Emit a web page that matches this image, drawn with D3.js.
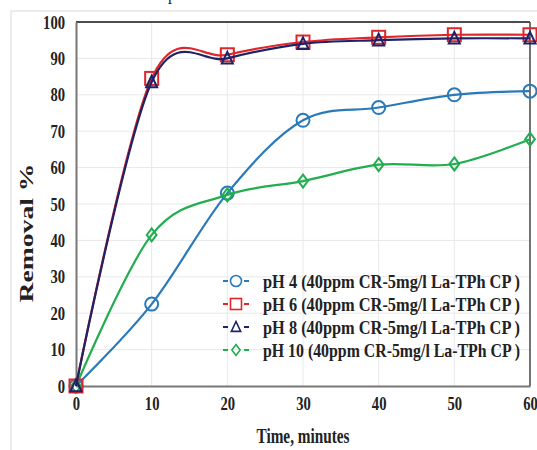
<!DOCTYPE html>
<html lang="en">
<head>
<meta charset="UTF-8">
<title>Removal vs time</title>
<script src="https://d3js.org/d3.v7.min.js"></script>
<style>
  body { margin: 0; background: #fff; }
  text { font-family: "Liberation Serif", "Times New Roman", serif; font-weight: bold; fill: #222; }
</style>
</head>
<body>
<svg width="537" height="450"></svg>
<script>
// data
const times = [0, 10, 20, 30, 40, 50, 60];
const ph4 = [0, 22.5, 53, 73, 76.5, 80, 81];
const ph6 = [0, 84.5, 91, 94.5, 95.8, 96.5, 96.5];
const ph8 = [0, 83.5, 90, 94, 95, 95.5, 95.5];
const ph10 = [0, 41.5, 52.5, 56.3, 60.8, 61, 67.8];
const legendLabels = [
  "pH 4  (40ppm CR-5mg/l La-TPh CP )",
  "pH 6  (40ppm CR-5mg/l La-TPh CP )",
  "pH 8  (40ppm CR-5mg/l La-TPh CP )",
  "pH 10 (40ppm CR-5mg/l La-TPh CP )"
];
const xTicks = [0, 10, 20, 30, 40, 50, 60];
const yTicks = [0, 10, 20, 30, 40, 50, 60, 70, 80, 90, 100];

const series = [
  {name: "ph4", values: ph4, color: "#2a7ab9", shape: "circle", label: legendLabels[0]},
  {name: "ph6", values: ph6, color: "#e0262a", shape: "square", label: legendLabels[1]},
  {name: "ph8", values: ph8, color: "#1f2266", shape: "triangle", label: legendLabels[2]},
  {name: "ph10", values: ph10, color: "#22ad4f", shape: "diamond", label: legendLabels[3]}
];
const drawOrder = [0, 3, 1, 2];

const svg = d3.select("svg");
const mLeft = 76, mRight = 530, mTop = 22, mBottom = 386;

const x = d3.scaleLinear().domain([0, 60]).range([mLeft, mRight]);
const y = d3.scaleLinear().domain([0, 100]).range([mBottom, mTop]);

// outer light frame
svg.append("path").attr("d", "M11,450 V11 H537")
  .attr("fill", "none").attr("stroke", "#e6e6e6").attr("stroke-width", 1.5);
// cut-off caption text at the top
svg.append("text").attr("x", 168).attr("y", 0).attr("font-size", 16)
  .style("font-weight", "normal").text("p");

// gridlines
svg.append("g").selectAll("line").data(yTicks.slice(1, -1)).join("line")
  .attr("x1", mLeft).attr("x2", mRight).attr("y1", d => y(d)).attr("y2", d => y(d))
  .attr("stroke", "#e8e8e8").attr("stroke-width", 1);
svg.append("g").selectAll("line").data(xTicks.slice(1, -1)).join("line")
  .attr("y1", mTop).attr("y2", mBottom).attr("x1", d => x(d)).attr("x2", d => x(d))
  .attr("stroke", "#e8e8e8").attr("stroke-width", 1);

// plot frame
svg.append("line").attr("x1", mLeft).attr("x2", mRight).attr("y1", mTop).attr("y2", mTop)
  .attr("stroke", "#111").attr("stroke-width", 1.5);
svg.append("line").attr("x1", mRight).attr("x2", mRight).attr("y1", mTop).attr("y2", mBottom)
  .attr("stroke", "#444").attr("stroke-width", 1.5);

// condensed look of the original tick labels
function styleTicks(sel) {
  sel.attr("font-size", 19).attr("fill", "#222")
    .attr("font-family", "Liberation Serif").attr("font-weight", "bold")
    .attr("lengthAdjust", "spacingAndGlyphs")
    .attr("textLength", function () { return this.textContent.length * 7.3; });
}

// axes
const xAxis = svg.append("g").attr("transform", `translate(0,${mBottom})`)
  .call(d3.axisBottom(x).tickValues(xTicks).tickSize(0).tickPadding(20));
xAxis.select(".domain").attr("stroke", "#777").attr("stroke-width", 2);
xAxis.selectAll("text").attr("dy", "0.2em").call(styleTicks);

const yAxis = svg.append("g").attr("transform", `translate(${mLeft},0)`)
  .call(d3.axisLeft(y).tickValues(yTicks).tickSize(0).tickPadding(11));
yAxis.select(".domain").attr("stroke", "#777").attr("stroke-width", 2);
yAxis.selectAll("text").call(styleTicks);

// axis titles
svg.append("text").attr("x", 303).attr("y", 443).attr("text-anchor", "middle")
  .attr("font-size", 22).attr("textLength", 93).attr("lengthAdjust", "spacingAndGlyphs")
  .text("Time, minutes");
svg.append("text").attr("transform", "translate(33,233) rotate(-90)")
  .attr("text-anchor", "middle").attr("font-size", 18)
  .attr("textLength", 139).attr("lengthAdjust", "spacingAndGlyphs")
  .text("Removal  %");

// markers
function marker(g, shape, cx, cy, r, color) {
  let el;
  if (shape === "circle") {
    el = g.append("circle").attr("cx", cx).attr("cy", cy).attr("r", r);
  } else if (shape === "square") {
    el = g.append("rect").attr("x", cx - r).attr("y", cy - r).attr("width", 2 * r).attr("height", 2 * r);
  } else if (shape === "triangle") {
    el = g.append("path").attr("d", `M${cx},${cy - r} L${cx + r * 0.85},${cy + r * 0.8} L${cx - r * 0.85},${cy + r * 0.8} Z`);
  } else {
    el = g.append("path").attr("d", `M${cx},${cy - r} L${cx + r * 0.75},${cy} L${cx},${cy + r} L${cx - r * 0.75},${cy} Z`);
  }
  el.attr("fill", "none").attr("stroke", color).attr("stroke-width", 2);
  return el;
}

const line = d3.line()
  .x((d, i) => x(times[i]))
  .y(d => y(d))
  .curve(d3.curveCardinal.tension(0));

drawOrder.forEach(k => {
  const s = series[k];
  const g = svg.append("g");
  g.append("path").attr("d", line(s.values))
    .attr("fill", "none").attr("stroke", s.color).attr("stroke-width", 2.2);
  s.values.forEach((v, i) => {
    marker(g, s.shape, x(times[i]), y(v), 6.5, s.color);
  });
});

// legend
const lg = svg.append("g");
series.forEach((s, i) => {
  const cy = 281 + i * 23;
  lg.append("line").attr("x1", 223).attr("x2", 228).attr("y1", cy).attr("y2", cy)
    .attr("stroke", s.color).attr("stroke-width", 2);
  lg.append("line").attr("x1", 244).attr("x2", 249).attr("y1", cy).attr("y2", cy)
    .attr("stroke", s.color).attr("stroke-width", 2);
  marker(lg, s.shape, 236, cy, 5.5, s.color).attr("stroke-width", 1.6);
  lg.append("text").attr("x", 263).attr("y", cy + 6.5).attr("font-size", 19)
    .attr("textLength", 257).attr("lengthAdjust", "spacingAndGlyphs")
    .text(s.label);
});
</script>
</body>
</html>
